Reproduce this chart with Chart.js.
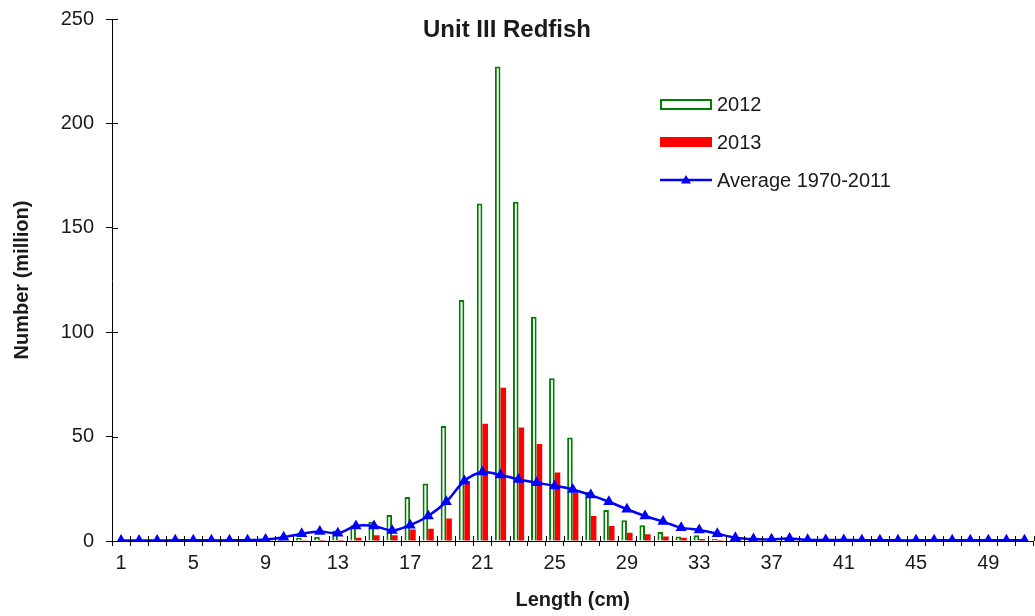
<!DOCTYPE html>
<html>
<head>
<meta charset="utf-8">
<script src="https://cdn.jsdelivr.net/npm/chart.js@4"></script>
<style>
  html, body { margin: 0; padding: 0; background: #fff; overflow: hidden; }
  #wrap { position: relative; width: 1040px; height: 616px; font-family: "Liberation Sans", Arial, sans-serif; color: #1a1a1a; }
  #c { position: absolute; left: 0; top: 0; }
  #title { position: absolute; left: 507px; top: 17px; transform: translateX(-50%); font-size: 24px; line-height: 24px; font-weight: bold; white-space: nowrap; }
  .li { position: absolute; left: 660px; height: 30px; display: flex; align-items: center; font-size: 20px; white-space: nowrap; }
  .li .sym { width: 52px; height: 30px; display: flex; align-items: center; margin-right: 5px; }
</style>
</head>
<body>
<div id="wrap">
  <canvas id="c" width="1040" height="616"></canvas>
  <div id="title">Unit III Redfish</div>
  <div id="legend"></div>
</div>
<script>
// ---- data ----
const lengths = ['1','2','3','4','5','6','7','8','9','10','11','12','13','14','15','16','17','18','19','20',
  '21','22','23','24','25','26','27','28','29','30','31','32','33','34','35','36','37','38','39','40',
  '41','42','43','44','45','46','47','48','49','50','51'];
const xTickLabels = ['1','5','9','13','17','21','25','29','33','37','41','45','49'];
const yTickValues = [0, 50, 100, 150, 200, 250];

const counts2012 = [0, 0.2, 0.5, 0.5, 0.3, 0.3, 0.2, 0.2, 0.3, 0.5,
  1.5, 2.0, 5.0, 7.6, 9.2, 12.5, 21.1, 27.5, 55.1, 115.4,
  161.6, 227.3, 162.5, 107.4, 77.9, 49.6, 23.5, 14.8, 9.9, 7.5,
  4.3, 2.1, 2.7, 1.0, 0.5, 0.3, 0.2, 0, 0, 0,
  0, 0, 0, 0, 0, 0, 0, 0, 0, 0, 0];
const counts2013 = [0, 0, 0.2, 1.0, 0.2, 0.1, 0.1, 0.1, 0.2, 0.2,
  0.4, 0.5, 0.5, 1.6, 2.8, 2.8, 5.5, 5.9, 10.8, 28.7,
  56.2, 73.4, 54.3, 46.4, 32.8, 23.1, 12.0, 7.2, 4.0, 3.2,
  2.2, 1.6, 1.0, 0.5, 0.3, 0.2, 0, 0, 0, 0,
  0, 0, 0, 0, 0, 0, 0, 0, 0, 0, 0];
const avg1970to2011 = [0.2, 0.2, 0.2, 0.3, 0.3, 0.3, 0.3, 0.4, 0.7, 1.8,
  3.5, 4.6, 3.7, 7.2, 7.2, 5.0, 7.6, 12.0, 18.8, 28.7,
  33.0, 31.6, 29.5, 27.9, 26.4, 24.7, 22.0, 18.8, 15.2, 12.0,
  9.3, 6.4, 5.3, 3.5, 1.6, 0.9, 0.8, 1.2, 0.6, 0.5,
  0.5, 0.4, 0.4, 0.3, 0.3, 0.3, 0.3, 0.3, 0.3, 0.3, 0.3];
const seriesNames = ['2012', '2013', 'Average 1970-2011'];

// ---- chart ----
const FONT = '"Liberation Sans", Arial, sans-serif';
const TXT = '#1a1a1a';

const crossTicks = {
  id: 'crossTicks',
  afterDraw(chart) {
    const { ctx, scales: { x, y }, chartArea: a } = chart;
    ctx.save();
    ctx.strokeStyle = '#000';
    ctx.lineWidth = 1;
    ctx.beginPath();
    y.ticks.forEach((t, i) => {
      const py = Math.round(y.getPixelForTick(i)) + 0.5;
      ctx.moveTo(a.left, py); ctx.lineTo(a.left + 6, py);
    });
    const n = x.ticks.length;
    const half = (x.getPixelForTick(1) - x.getPixelForTick(0)) / 2;
    for (let i = 0; i <= n; i++) {
      const c = i < n ? x.getPixelForTick(i) - half : x.getPixelForTick(n - 1) + half;
      const px = Math.round(c) + 0.5;
      ctx.moveTo(px, a.bottom); ctx.lineTo(px, a.bottom - 5);
    }
    ctx.stroke();
    ctx.restore();
  }
};

const chart = new Chart(document.getElementById('c'), {
  type: 'bar',
  data: {
    labels: lengths,
    datasets: [
      {
        type: 'line', label: seriesNames[2], data: avg1970to2011, order: 0,
        borderColor: '#0000ff', borderWidth: 2.5, tension: 0.3,
        pointStyle: 'triangle', pointRadius: 6.5, pointBackgroundColor: '#0000ff',
        pointBorderColor: '#0000ff', pointBorderWidth: 0, fill: false
      },
      {
        label: seriesNames[0], data: counts2012, order: 1,
        backgroundColor: '#ffffff', borderColor: '#008000', borderWidth: 2,
        categoryPercentage: 0.62, barPercentage: 1.0
      },
      {
        label: seriesNames[1], data: counts2013, order: 2,
        backgroundColor: '#ff0000', borderWidth: 0,
        categoryPercentage: 0.62, barPercentage: 1.0
      }
    ]
  },
  options: {
    responsive: false,
    animation: false,
    devicePixelRatio: 1,
    layout: { padding: { top: 19, right: 0, left: 0, bottom: 0 } },
    plugins: { legend: { display: false }, tooltip: { enabled: false }, title: { display: false } },
    scales: {
      x: {
        offset: true,
        grid: { offset: true, drawOnChartArea: false, drawTicks: true, tickLength: 5, color: '#000', lineWidth: 1 },
        border: { display: true, color: '#000', width: 1 },
        ticks: {
          autoSkip: false, maxRotation: 0, minRotation: 0, padding: 5,
          color: TXT, font: { family: FONT, size: 20 },
          callback: function (v, i) { const l = lengths[i]; return xTickLabels.includes(l) ? l : ''; }
        },
        title: { display: true, text: 'Length (cm)', color: TXT, font: { family: FONT, size: 20, weight: 'bold' }, padding: { top: 0, bottom: 4 } },
        afterFit: s => { s.height = 75; s.paddingLeft = 0; s.paddingRight = 0; }
      },
      y: {
        min: yTickValues[0], max: yTickValues[yTickValues.length - 1],
        afterBuildTicks: s => { s.ticks = yTickValues.map(v => ({ value: v })); },
        grid: { drawOnChartArea: false, drawTicks: true, tickLength: 6, color: '#000', lineWidth: 1 },
        border: { display: true, color: '#000', width: 1 },
        ticks: { padding: 12, color: TXT, font: { family: FONT, size: 20 } },
        title: { display: true, text: 'Number (million)', color: TXT, font: { family: FONT, size: 20, weight: 'bold' }, padding: { top: 10, bottom: 0 } },
        afterFit: s => { s.width = 112; s.paddingTop = 0; s.paddingBottom = 0; }
      }
    }
  },
  plugins: [crossTicks]
});

// ---- HTML legend (real text) ----
const legend = document.getElementById('legend');
const rows = [
  { name: seriesNames[0], top: 89, sym: '<div style="width:48px;height:7px;border:2px solid #008000;background:#fff"></div>' },
  { name: seriesNames[1], top: 127, sym: '<div style="width:52px;height:10px;background:#ff0000"></div>' },
  { name: seriesNames[2], top: 165, sym: '<svg width="52" height="30"><line x1="0" y1="15" x2="52" y2="15" stroke="#0000ff" stroke-width="2.5"/><polygon points="26,10 31,18.5 21,18.5" fill="#0000ff"/></svg>' }
];
rows.forEach(r => {
  const d = document.createElement('div');
  d.className = 'li';
  d.style.top = r.top + 'px';
  d.innerHTML = '<div class="sym">' + r.sym + '</div><span></span>';
  d.querySelector('span').textContent = r.name;
  legend.appendChild(d);
});
</script>
</body>
</html>
